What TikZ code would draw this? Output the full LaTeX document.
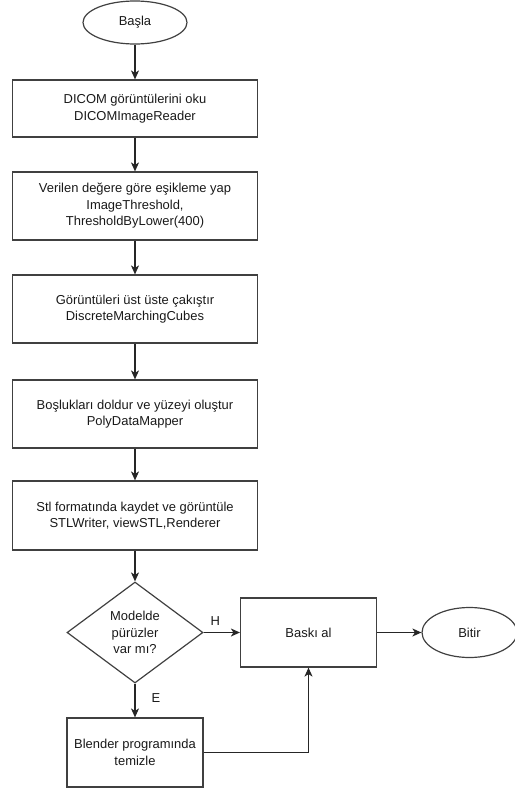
\documentclass[tikz,border=0pt]{standalone}
\usepackage{fontspec}
\setmainfont{Liberation Sans}
\usetikzlibrary{shapes.geometric,arrows.meta}
\begin{document}
\begin{tikzpicture}[x=1bp,y=-1bp,font=\fontsize{13}{16.5}\selectfont,>={Stealth[length=9bp,width=8bp,inset=2.5bp]}]
		\tikzstyle{every node}+=[inner sep=0pt,text=black!90]
		\tikzstyle{islem}=[draw=black!75,line width=1.2bp,rectangle,align=center,minimum width=245bp,minimum height=68bp]
		\tikzstyle{kutu}=[draw=black!75,line width=1.2bp,rectangle,align=center,minimum width=136bp,minimum height=69bp]
		\tikzstyle{uc}=[draw=black!75,line width=1.2bp,ellipse,minimum height=43bp]
		\tikzstyle{karar}=[draw=black!75,line width=1.2bp,diamond,aspect=1.35,align=center,minimum width=136bp,minimum height=101bp]
		\tikzstyle{ok}=[black!85,line width=1.2bp,->]
		\useasboundingbox (0,0) rectangle (515,790);
		\node [uc,minimum width=104bp] (basla) at (135,22.5) {Başla};
		\node [islem,minimum height=57bp] (oku) at (135,108.5) {DICOM görüntülerini oku\\DICOMImageReader};
		\node [islem] (esik) at (135,206) {Verilen değere göre eşikleme yap\\ImageThreshold,\\ThresholdByLower(400)};
		\node [islem] (cakistir) at (135,309) {Görüntüleri üst üste çakıştır\\DiscreteMarchingCubes};
		\node [islem] (doldur) at (135,414) {Boşlukları doldur ve yüzeyi oluştur\\PolyDataMapper};
		\node [islem,minimum height=69bp] (stl) at (135,515.5) {Stl formatında kaydet ve görüntüle\\STLWriter, viewSTL,Renderer};
		\node [karar] (puruz) at (135,632.5) {Modelde\\pürüzler\\var mı?};
		\node [kutu] (baski) at (308.5,632.5) {Baskı al};
		\node [uc,minimum width=95bp,minimum height=50bp] (bitir) at (469.5,632.5) {Bitir};
		\node [kutu] (blender) at (135,752.5) {Blender programında\\temizle};
		\draw [ok] (basla) -- (oku);
		\draw [ok] (oku) -- (esik);
		\draw [ok] (esik) -- (cakistir);
		\draw [ok] (cakistir) -- (doldur);
		\draw [ok] (doldur) -- (stl);
		\draw [ok] (stl) -- (puruz);
		\draw [ok] (puruz) -- node [pos=0.32,above=6bp] {H} (baski);
		\draw [ok] (puruz) -- node [pos=0.43,right=16bp] {E} (blender);
		\draw [ok] (baski) -- (bitir);
		\draw [ok] (blender.east) -| (baski.south);
\end{tikzpicture}
\end{document}
